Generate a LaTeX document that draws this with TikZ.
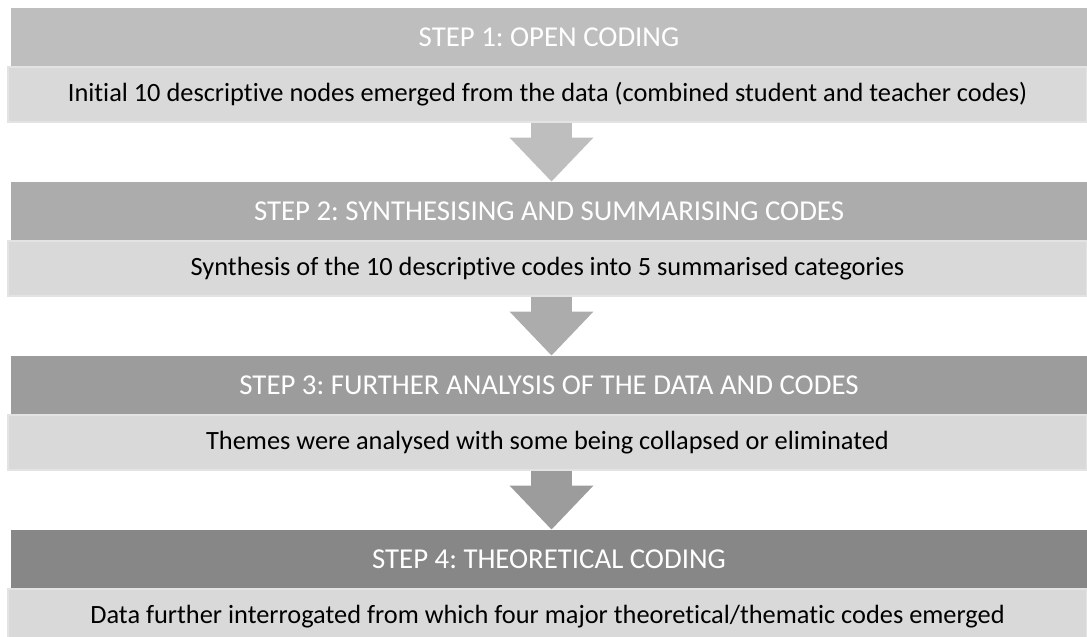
\documentclass[tikz,border=0pt]{standalone}
\usepackage{fontspec}
\setmainfont[Ligatures=NoCommon]{Carlito}
\frenchspacing
\usetikzlibrary{arrows.meta}
\definecolor{stepOne}{HTML}{BEBEBE}
\definecolor{stepTwo}{HTML}{ACACAC}
\definecolor{stepThree}{HTML}{9C9C9C}
\definecolor{stepFour}{HTML}{878787}
\definecolor{descFill}{HTML}{D9D9D9}
\definecolor{descLine}{HTML}{E3E3E3}
\begin{document}
\begin{tikzpicture}[
    header/.style={rectangle, fill=#1, text=white, inner sep=0pt, minimum height=1.18cm, minimum width=21.52cm, font=\fontsize{16.4}{19}\selectfont},
    detail/.style={rectangle, fill=descFill, draw=descLine, line width=0.04cm, inner sep=0pt, minimum height=1.1cm, minimum width=21.58cm, font=\fontsize{15}{18}\selectfont},
    flow/.style={draw=#1, line width=0.82cm, -{Triangle[width=1.62cm, length=0.88cm]}}
  ]
  \useasboundingbox (0,0) rectangle (21.74,-12.74);
  % Nodes
  \node (head1) [header=stepOne] at (10.98, -0.75) {STEP 1: OPEN CODING};
  \node (desc1) [detail] at (10.95, -1.89) {Initial 10 descriptive nodes emerged from the data (combined student and teacher codes)};
  \node (head2) [header=stepTwo] at (10.98, -4.23) {STEP 2: SYNTHESISING AND SUMMARISING CODES};
  \node (desc2) [detail] at (10.95, -5.37) {Synthesis of the 10 descriptive codes into 5 summarised categories};
  \node (head3) [header=stepThree] at (10.98, -7.71) {STEP 3: FURTHER ANALYSIS OF THE DATA AND CODES};
  \node (desc3) [detail] at (10.95, -8.85) {Themes were analysed with some being collapsed or eliminated};
  \node (head4) [header=stepFour] at (10.98, -11.19) {STEP 4: THEORETICAL CODING};
  \node (desc4) [detail] at (10.95, -12.33) {Data further interrogated from which four major theoretical/thematic codes emerged};
  % Arrows
  \draw[flow=stepOne] ([xshift=0.08cm]desc1.south) -- ([xshift=0.08cm]desc1.south |- head2.north);
  \draw[flow=stepTwo] ([xshift=0.08cm]desc2.south) -- ([xshift=0.08cm]desc2.south |- head3.north);
  \draw[flow=stepThree] ([xshift=0.08cm]desc3.south) -- ([xshift=0.08cm]desc3.south |- head4.north);
\end{tikzpicture}
\end{document}
